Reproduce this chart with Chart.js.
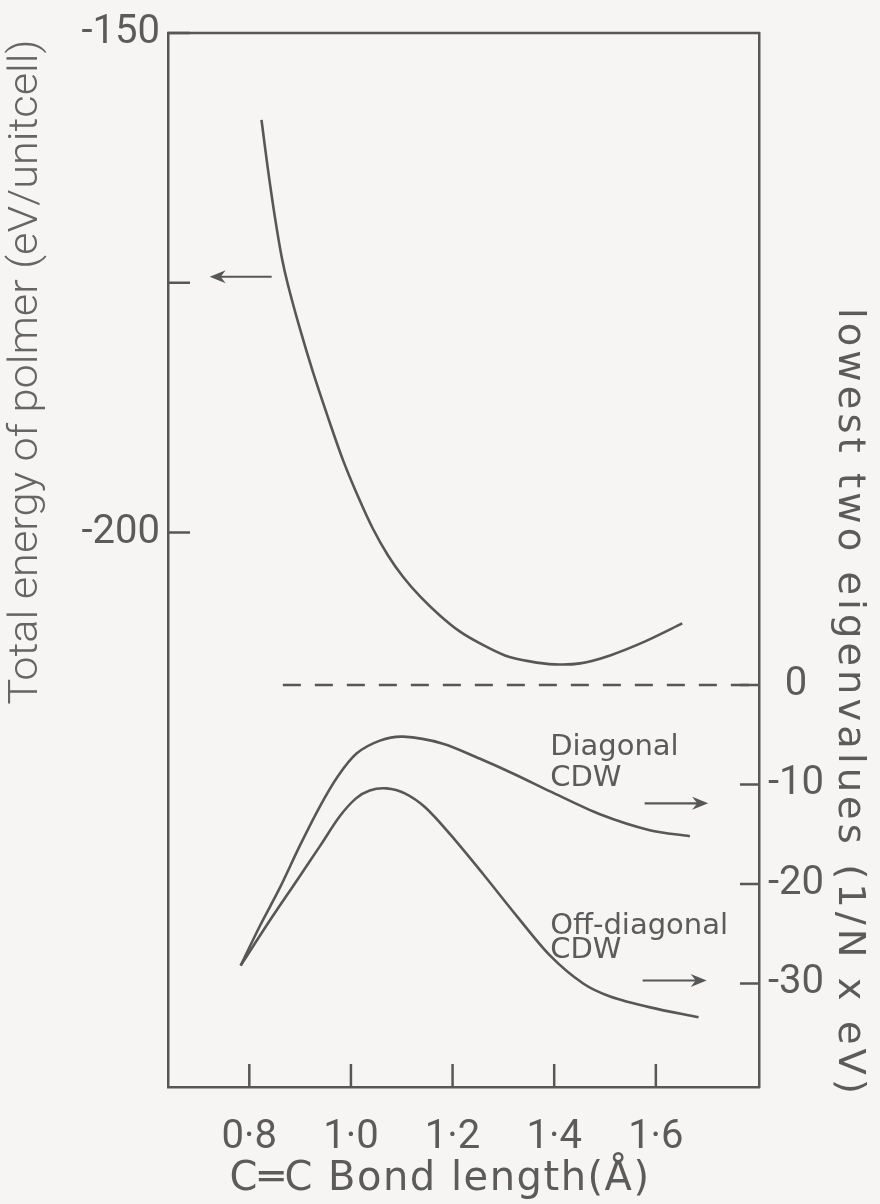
<!DOCTYPE html>
<html lang="en">
<head>
<meta charset="UTF-8">
<title>Total energy and lowest eigenvalues vs C-C bond length</title>
<script src="https://cdn.jsdelivr.net/npm/chart.js"></script>
<style>
    body {
        margin: 0;
        background: #f6f5f4;
    }

    .chart-container {
        width: 880px;
        height: 1204px;
    }
</style>
</head>
<body>
<div class="chart-container">
    <canvas id="bondChart" width="880" height="1204"></canvas>
</div>

<script>
    // total energy of the polymer (left axis, eV / unit cell)
    const energyX = [0.824, 0.836, 0.850, 0.864, 0.876, 0.899, 0.925, 0.955, 0.984, 1.014, 1.043, 1.073, 1.102, 1.136, 1.175, 1.214, 1.254, 1.303, 1.352, 1.401, 1.451, 1.510, 1.579, 1.652];
    const energyY = [-158.7, -163.4, -168.3, -172.5, -175.2, -179.5, -183.9, -188.5, -192.7, -196.4, -199.6, -202.3, -204.4, -206.4, -208.3, -209.9, -211.1, -212.3, -212.9, -213.2, -213.1, -212.3, -210.9, -209.1];

    // lowest eigenvalues (right axis, 1/N x eV)
    const diagX = [0.783, 0.821, 0.860, 0.899, 0.939, 0.974, 1.011, 1.057, 1.103, 1.181, 1.253, 1.323, 1.392, 1.490, 1.588, 1.667];
    const diagY = [-28.2, -24.2, -20.4, -16.2, -12.2, -9.2, -6.9, -5.6, -5.2, -5.9, -7.4, -9.0, -10.7, -13.0, -14.6, -15.2];
    const offDiagX = [0.783, 0.840, 0.893, 0.939, 0.978, 1.010, 1.037, 1.070, 1.106, 1.146, 1.195, 1.260, 1.326, 1.392, 1.457, 1.510, 1.589, 1.684];
    const offDiagY = [-28.2, -23.7, -19.7, -16.2, -13.2, -11.4, -10.6, -10.4, -10.9, -12.3, -15.0, -19.0, -23.2, -27.2, -30.0, -31.3, -32.4, -33.4];

    // axis ticks
    const xTicks = [0.8, 1.0, 1.2, 1.4, 1.6];
    const xTickLabels = ['0·8', '1·0', '1·2', '1·4', '1·6'];
    const leftTicks = [-150, -175, -200];
    const leftTickLabels = ['-150', '', '-200'];
    const rightTicks = [0, -10, -20, -30];
    const rightTickLabels = ['0', '-10', '-20', '-30'];

    // axis ranges
    const xMin = 0.64, xMax = 1.803;
    const leftMin = -255.5, leftMax = -150;
    const rightMin = -40.4, rightMax = 65.5;

    // dashed zero line (right axis)
    const zeroLineX = [0.866, xMax];

    // annotation arrows: axis, y value, from x, to x
    const arrowAxis = ['y', 'y2', 'y2'];
    const arrowY = [-174.4, -11.9, -29.7];
    const arrowFromX = [0.844, 1.578, 1.574];
    const arrowToX = [0.722, 1.703, 1.700];

    // curve labels (right axis)
    const noteText = ['Diagonal', 'CDW', 'Off-diagonal', 'CDW'];
    const noteX = [1.392, 1.392, 1.392, 1.392];
    const noteY = [-7.0, -10.2, -25.0, -27.4];

    const ink = '#575757';
    const textInk = '#5b5b5b';

    function pts(xs, ys) {
        return xs.map((x, i) => ({x: x, y: ys[i]}));
    }

    function drawArrow(ctx, x1, y1, x2, y2) {
        const c = Math.cos(Math.atan2(y2 - y1, x2 - x1));
        const s = Math.sin(Math.atan2(y2 - y1, x2 - x1));
        ctx.beginPath();
        ctx.moveTo(x1, y1);
        ctx.lineTo(x2 - 8 * c, y2 - 8 * s);
        ctx.stroke();
        ctx.beginPath();
        ctx.moveTo(x2, y2);
        ctx.lineTo(x2 - 16 * c + 6.5 * s, y2 - 16 * s - 6.5 * c);
        ctx.lineTo(x2 - 11 * c, y2 - 11 * s);
        ctx.lineTo(x2 - 16 * c - 6.5 * s, y2 - 16 * s + 6.5 * c);
        ctx.closePath();
        ctx.fill();
    }

    // draw rotated text squeezed/stretched to a given length
    function fitText(ctx, text, cx, cy, angle, length) {
        ctx.save();
        ctx.translate(cx, cy);
        ctx.rotate(angle);
        ctx.scale(length / ctx.measureText(text).width, 1);
        ctx.fillText(text, 0, 0);
        ctx.restore();
    }

    const decorations = {
        id: 'decorations',
        afterDraw(chart) {
            const {ctx, chartArea: a, scales} = chart;
            ctx.save();
            ctx.strokeStyle = ink;
            ctx.fillStyle = ink;
            ctx.lineWidth = 2.5;

            // top of the frame
            ctx.beginPath();
            ctx.moveTo(a.left - 1, a.top);
            ctx.lineTo(a.right + 1, a.top);
            ctx.stroke();

            // ticks pointing into the plot
            ctx.beginPath();
            leftTicks.forEach(v => {
                const y = scales.y.getPixelForValue(v);
                ctx.moveTo(a.left, y);
                ctx.lineTo(a.left + 22, y);
            });
            rightTicks.forEach(v => {
                const y = scales.y2.getPixelForValue(v);
                ctx.moveTo(a.right, y);
                ctx.lineTo(a.right - 19, y);
            });
            xTicks.forEach(v => {
                const x = scales.x.getPixelForValue(v);
                ctx.moveTo(x, a.bottom);
                ctx.lineTo(x, a.bottom - 23);
            });
            ctx.stroke();

            // arrows
            ctx.lineWidth = 2.2;
            arrowY.forEach((v, i) => {
                const y = scales[arrowAxis[i]].getPixelForValue(v);
                drawArrow(ctx, scales.x.getPixelForValue(arrowFromX[i]), y,
                    scales.x.getPixelForValue(arrowToX[i]), y);
            });

            // curve notes
            ctx.fillStyle = textInk;
            ctx.font = '29px "DejaVu Sans"';
            ctx.textAlign = 'left';
            ctx.textBaseline = 'alphabetic';
            noteText.forEach((t, i) => {
                ctx.fillText(t, scales.x.getPixelForValue(noteX[i]), scales.y2.getPixelForValue(noteY[i]));
            });

            // axis titles
            ctx.textAlign = 'center';
            ctx.textBaseline = 'middle';
            ctx.font = '40px "DejaVu Sans"';
            ctx.letterSpacing = '1.5px';
            ctx.fillText('C\u2550C Bond length(Å)', 440, 1180);

            ctx.font = '38px "DejaVu Sans"';
            ctx.letterSpacing = '4px';
            fitText(ctx, 'lowest two eigenvalues (1/N x eV)', 849, 703, Math.PI / 2, 790);

            ctx.font = '300 40px Roboto';
            ctx.letterSpacing = '0px';
            ctx.fillStyle = '#656565';
            fitText(ctx, 'Total energy of polmer (eV/unitcell)', 27, 372, -Math.PI / 2, 665);

            ctx.restore();
        }
    };

    const curve = {
        borderColor: ink,
        borderWidth: 2.6,
        pointRadius: 0,
        fill: false,
        tension: 0.3
    };

    const tickFont = {family: 'Roboto', size: 40, weight: 'normal'};

    let ctx = document.getElementById('bondChart').getContext('2d');
    let bondChart = new Chart(ctx, {
        type: 'line',
        data: {
            datasets: [
                Object.assign({label: 'Total energy', data: pts(energyX, energyY), yAxisID: 'y'}, curve),
                Object.assign({label: 'Diagonal CDW', data: pts(diagX, diagY), yAxisID: 'y2'}, curve),
                Object.assign({label: 'Off-diagonal CDW', data: pts(offDiagX, offDiagY), yAxisID: 'y2'}, curve),
                {
                    label: 'zero',
                    data: pts(zeroLineX, [0, 0]),
                    yAxisID: 'y2',
                    borderColor: ink,
                    borderWidth: 2.5,
                    borderDash: [18, 14],
                    pointRadius: 0
                }
            ]
        },
        options: {
            responsive: false,
            animation: false,
            layout: {padding: {top: 28, left: 0, right: 0, bottom: 0}},
            plugins: {
                legend: {display: false},
                tooltip: {enabled: false}
            },
            scales: {
                x: {
                    type: 'linear',
                    min: xMin,
                    max: xMax,
                    afterBuildTicks: s => { s.ticks = xTicks.map(v => ({value: v})); },
                    afterFit: s => { s.height = 117; },
                    grid: {display: false, drawTicks: false},
                    border: {color: ink, width: 2.5},
                    ticks: {
                        autoSkip: false,
                        maxRotation: 0,
                        padding: 27,
                        color: textInk,
                        font: tickFont,
                        callback: v => xTickLabels[xTicks.indexOf(v)]
                    }
                },
                y: {
                    position: 'left',
                    min: leftMin,
                    max: leftMax,
                    afterBuildTicks: s => { s.ticks = leftTicks.map(v => ({value: v})); },
                    afterFit: s => { s.width = 168; },
                    grid: {display: false, drawTicks: false},
                    border: {color: ink, width: 2.5},
                    ticks: {
                        autoSkip: false,
                        padding: 8,
                        color: textInk,
                        font: tickFont,
                        callback: v => leftTickLabels[leftTicks.indexOf(v)]
                    }
                },
                y2: {
                    position: 'right',
                    min: rightMin,
                    max: rightMax,
                    afterBuildTicks: s => { s.ticks = rightTicks.map(v => ({value: v})); },
                    afterFit: s => { s.width = 121; },
                    grid: {display: false, drawTicks: false},
                    border: {color: ink, width: 2.5},
                    ticks: {
                        autoSkip: false,
                        padding: 9,
                        crossAlign: 'center',
                        color: textInk,
                        font: tickFont,
                        callback: v => rightTickLabels[rightTicks.indexOf(v)]
                    }
                }
            }
        },
        plugins: [decorations]
    });
</script>
</body>
</html>
